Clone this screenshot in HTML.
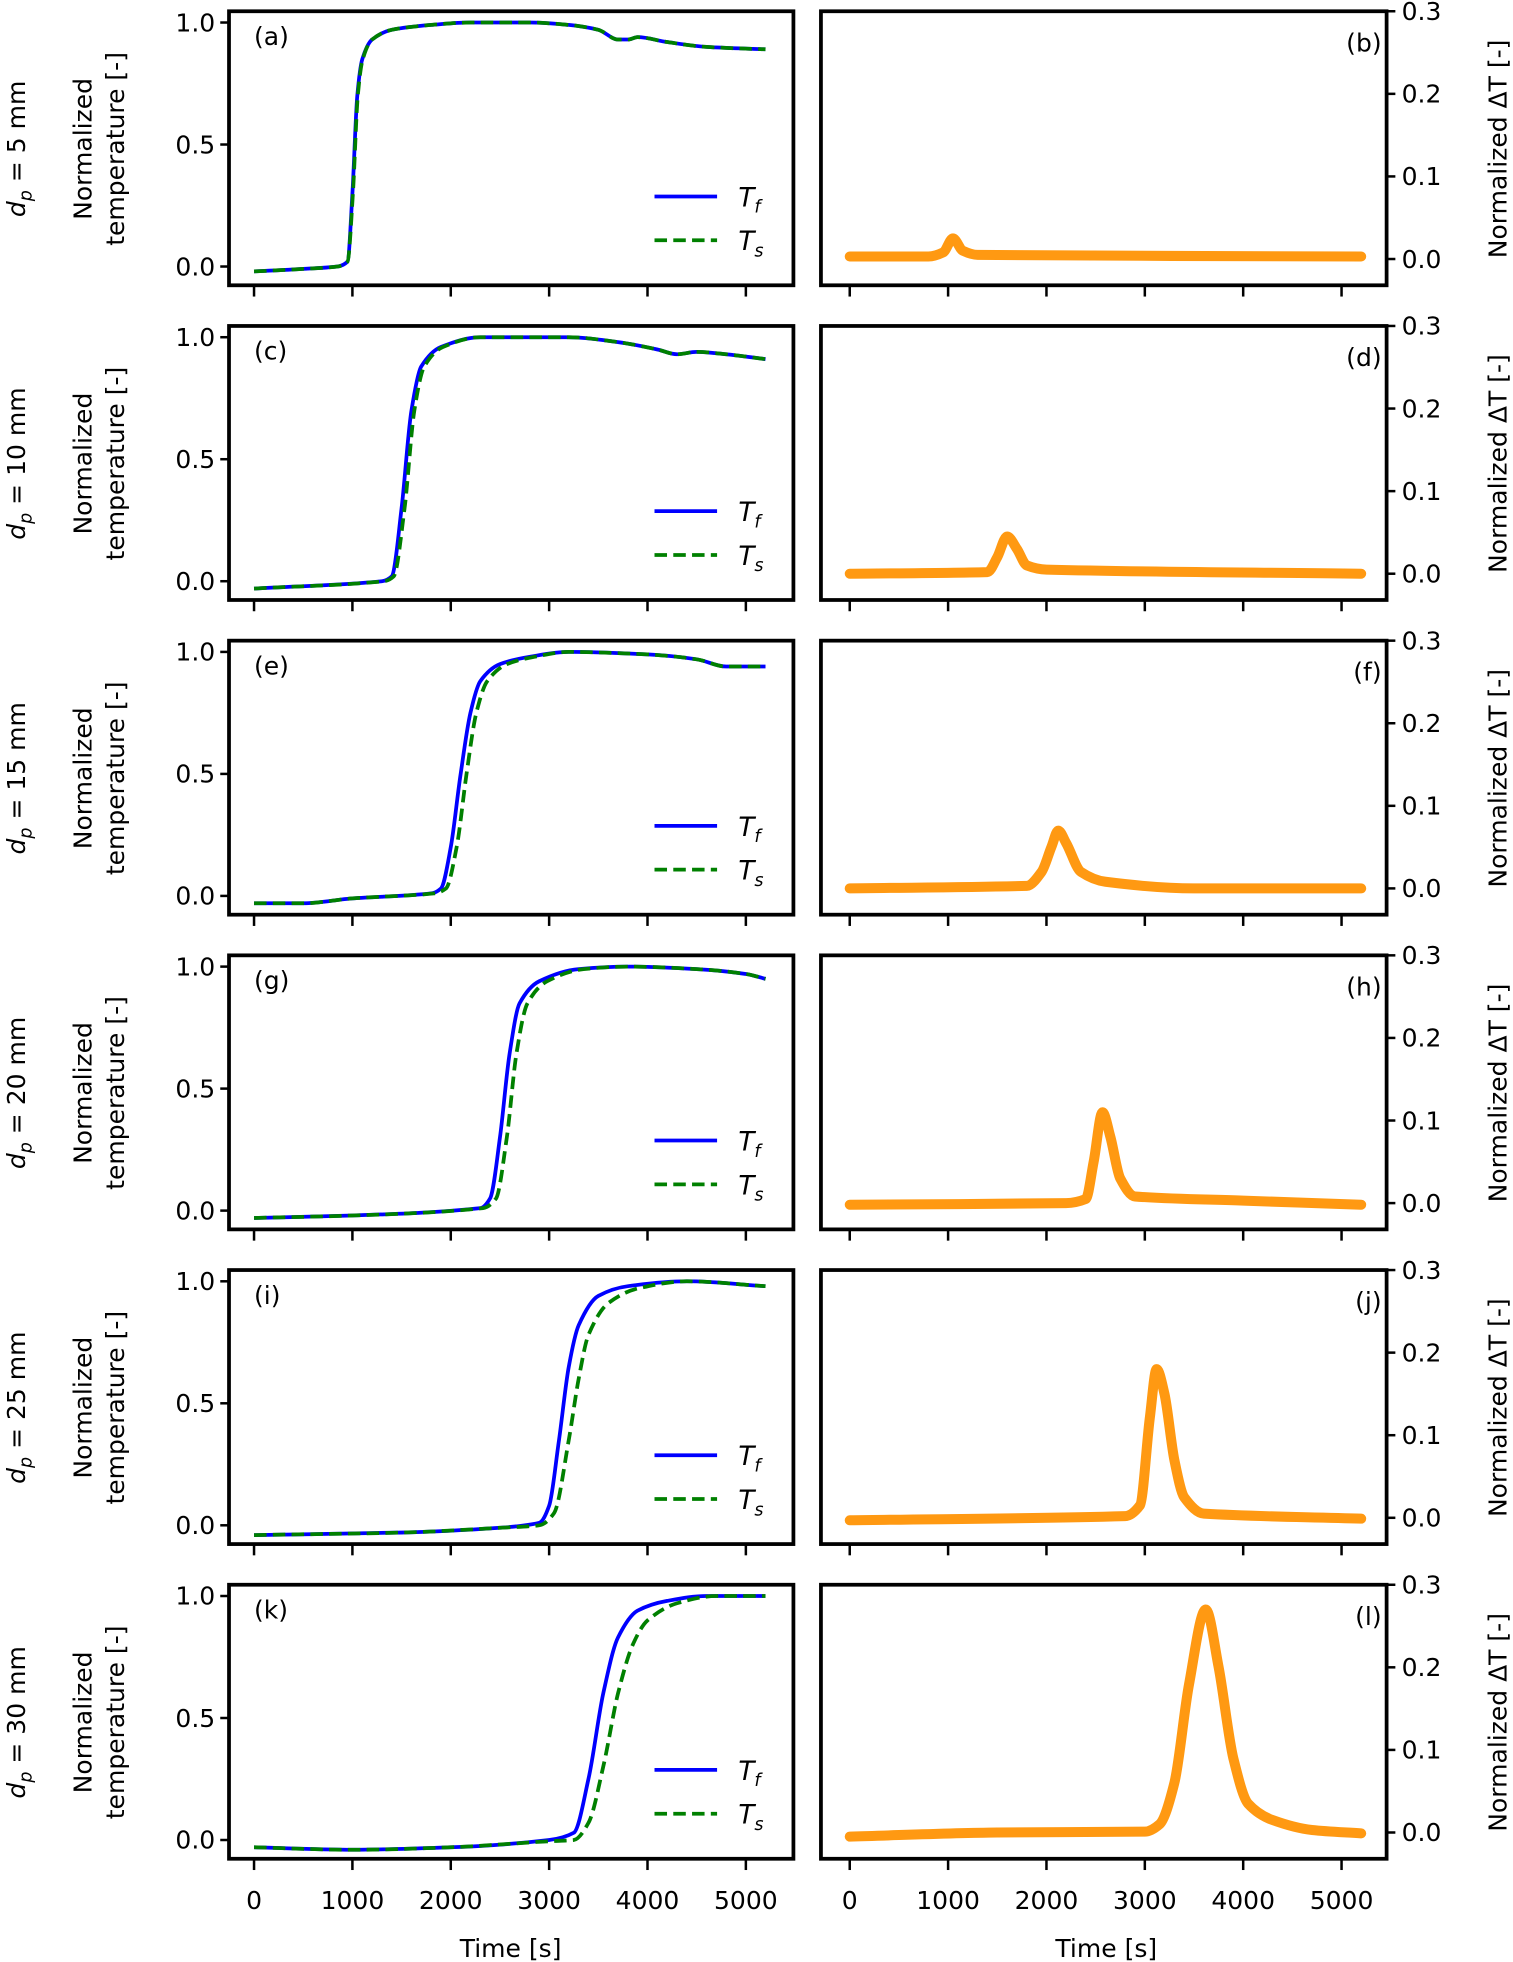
<!DOCTYPE html>
<html><head><meta charset="utf-8"><style>
html,body{margin:0;padding:0;background:#fff}
svg{display:block}
text{font-family:"DejaVu Sans","Liberation Sans",sans-serif;fill:#000}
</style></head><body>
<svg id="fig" width="1513" height="1962" viewBox="0 0 1209 1568" preserveAspectRatio="none" xmlns="http://www.w3.org/2000/svg"></svg>
<script>
const diameters = [5,10,15,20,25,30];
const letters = [["a","b"],["c","d"],["e","f"],["g","h"],["i","j"],["k","l"]];
const xTicks = [0,1000,2000,3000,4000,5000];
const yTicksLeft = [0.0,0.5,1.0];
const yTicksRight = [0.0,0.1,0.2,0.3];
// Tf series [time, value]
const tf5 = [[0,-0.02],[500,-0.01],[850,0.0],[950,0.02],[1000,0.3],[1050,0.7],[1100,0.85],[1200,0.93],[1400,0.97],[1800,0.99],[2200,1.0],[2800,1.0],[3200,0.99],[3500,0.97],[3700,0.93],[3800,0.93],[3900,0.94],[4200,0.92],[4600,0.9],[5200,0.89]];
const ts5 = [[0,-0.02],[500,-0.01],[850,0.0],[950,0.02],[1005,0.3],[1055,0.7],[1105,0.85],[1200,0.93],[1400,0.97],[1800,0.99],[2200,1.0],[2800,1.0],[3200,0.99],[3500,0.97],[3700,0.93],[3800,0.93],[3900,0.94],[4200,0.92],[4600,0.9],[5200,0.89]];
const tf10 = [[0,-0.03],[1300,0.0],[1400,0.02],[1500,0.3],[1600,0.7],[1700,0.88],[1900,0.96],[2300,1.0],[3200,1.0],[3700,0.98],[4100,0.95],[4300,0.93],[4500,0.94],[4800,0.93],[5200,0.91]];
const ts10 = [[0,-0.03],[1320,0.0],[1420,0.02],[1530,0.3],[1630,0.7],[1730,0.88],[1920,0.96],[2300,1.0],[3200,1.0],[3700,0.98],[4100,0.95],[4300,0.93],[4500,0.94],[4800,0.93],[5200,0.91]];
const tf15 = [[0,-0.03],[500,-0.03],[1000,-0.01],[1800,0.01],[1900,0.03],[2000,0.2],[2100,0.5],[2200,0.75],[2300,0.88],[2500,0.95],[2800,0.98],[3200,1.0],[4000,0.99],[4500,0.97],[4800,0.94],[5200,0.94]];
const ts15 = [[0,-0.03],[500,-0.03],[1000,-0.01],[1830,0.01],[1950,0.03],[2060,0.2],[2160,0.5],[2260,0.75],[2370,0.88],[2570,0.95],[2850,0.98],[3200,1.0],[4000,0.99],[4500,0.97],[4800,0.94],[5200,0.94]];
const tf20 = [[0,-0.03],[1000,-0.02],[2300,0.01],[2400,0.05],[2500,0.3],[2600,0.65],[2700,0.85],[2900,0.94],[3300,0.99],[3800,1.0],[4500,0.99],[5000,0.97],[5200,0.95]];
const ts20 = [[0,-0.03],[1000,-0.02],[2330,0.01],[2460,0.05],[2570,0.3],[2670,0.65],[2780,0.85],[2980,0.94],[3350,0.99],[3800,1.0],[4500,0.99],[5000,0.97],[5200,0.95]];
const tf25 = [[0,-0.04],[1500,-0.03],[2500,-0.01],[2900,0.01],[3000,0.08],[3100,0.35],[3200,0.65],[3300,0.82],[3500,0.94],[3800,0.98],[4400,1.0],[5200,0.98]];
const ts25 = [[0,-0.04],[1500,-0.03],[2500,-0.01],[2900,0.0],[3050,0.05],[3200,0.35],[3300,0.6],[3400,0.78],[3600,0.91],[3900,0.97],[4400,1.0],[5200,0.98]];
const tf30 = [[0,-0.03],[1000,-0.04],[2000,-0.03],[3000,0.0],[3250,0.03],[3400,0.25],[3550,0.6],[3700,0.83],[3900,0.94],[4200,0.98],[4600,1.0],[5200,1.0]];
const ts30 = [[0,-0.03],[1000,-0.04],[2000,-0.03],[3000,-0.005],[3250,0.0],[3400,0.07],[3550,0.3],[3700,0.6],[3850,0.8],[4000,0.9],[4300,0.97],[4700,1.0],[5200,1.0]];
// delta T series
const dt5 = [[0,0.003],[800,0.003],[950,0.008],[1050,0.025],[1150,0.01],[1300,0.005],[5200,0.003]];
const dt10 = [[0,0.0],[1400,0.002],[1500,0.02],[1600,0.045],[1700,0.03],[1800,0.01],[2000,0.005],[5200,0.0]];
const dt15 = [[0,0.0],[1800,0.003],[1950,0.02],[2050,0.05],[2120,0.07],[2200,0.055],[2350,0.02],[2600,0.008],[3500,0.0],[5200,0.0]];
const dt20 = [[0,-0.002],[2200,0.0],[2400,0.005],[2480,0.05],[2570,0.11],[2650,0.08],[2750,0.03],[2900,0.008],[4000,0.003],[5200,-0.002]];
const dt25 = [[0,-0.003],[2800,0.002],[2950,0.015],[3050,0.12],[3120,0.18],[3200,0.15],[3300,0.07],[3400,0.025],[3600,0.005],[5200,-0.001]];
const dt30 = [[0,-0.005],[1500,0.0],[3000,0.001],[3150,0.01],[3300,0.06],[3450,0.18],[3620,0.27],[3750,0.2],[3900,0.09],[4050,0.035],[4300,0.015],[4700,0.003],[5200,-0.001]];
const tfAll = [tf5,tf10,tf15,tf20,tf25,tf30];
const tsAll = [ts5,ts10,ts15,ts20,ts25,ts30];
const dtAll = [dt5,dt10,dt15,dt20,dt25,dt30];

const NS="http://www.w3.org/2000/svg";
const svg=document.getElementById('fig');
function mk(tag,attrs,parent){const e=document.createElementNS(NS,tag);for(const k in attrs)e.setAttribute(k,attrs[k]);(parent||svg).appendChild(e);return e;}
const PITCH=251.5;
function xL(t){return 203+t*0.0786;}
function xR(t){return 679+t*0.0786;}
function yL(v,r){return r*PITCH+213-195*v;}
function yR(v,r){return r*PITCH+207-660*v;}
// monotone cubic path
function pathD(arr,fx,fy,r){
  const P=arr.map(p=>[fx(p[0]),fy(p[1],r)]);
  const n=P.length, d=[], m=[];
  for(let i=0;i<n-1;i++)d.push((P[i+1][1]-P[i][1])/(P[i+1][0]-P[i][0]));
  m[0]=d[0]; m[n-1]=d[n-2];
  for(let i=1;i<n-1;i++){ if(d[i-1]*d[i]<=0)m[i]=0; else m[i]=2/(1/d[i-1]+1/d[i]); }
  let s='M'+P[0][0].toFixed(1)+','+P[0][1].toFixed(1);
  for(let i=0;i<n-1;i++){
    const h=(P[i+1][0]-P[i][0])/3;
    s+=' C'+(P[i][0]+h).toFixed(1)+','+(P[i][1]+m[i]*h).toFixed(1)+' '+(P[i+1][0]-h).toFixed(1)+','+(P[i+1][1]-m[i+1]*h).toFixed(1)+' '+P[i+1][0].toFixed(1)+','+P[i+1][1].toFixed(1);
  }
  return s;
}

for(let r=0;r<6;r++){
  const top=9+r*PITCH, bot=228+r*PITCH;
  const gl=mk('g',{});
  
  
  const ls=mk('path',{d:pathD(tfAll[r],xL,yL,r),fill:'none',stroke:'#0000ff','stroke-width':3,'stroke-linejoin':'round'},gl);
  
  
  const ss=mk('path',{d:pathD(tsAll[r],xL,yL,r),fill:'none',stroke:'#008000','stroke-width':3,'stroke-dasharray':'10,5','stroke-linejoin':'round'},gl);
  
  
  const fr=mk('rect',{x:183,y:top,width:451,height:bot-top,fill:'none',stroke:'#000','stroke-width':3},gl);
  
  
  yTicksLeft.forEach(v=>{
    mk('line',{x1:176,x2:183,y1:yL(v,r),y2:yL(v,r),stroke:'#000','stroke-width':2},gl);
    const t=mk('text',{x:172,y:yL(v,r)+7,'text-anchor':'end','font-size':20},gl);t.textContent=v.toFixed(1);
    
    
  });
  xTicks.forEach(v=>{mk('line',{x1:xL(v),x2:xL(v),y1:bot,y2:bot+9,stroke:'#000','stroke-width':2},gl);});
  const pl=mk('text',{x:203,y:top+27,'font-size':20},gl);pl.textContent='('+letters[r][0]+')';
  
  
  const lg=mk('g',{},gl);
  
  
  mk('line',{x1:523,x2:573,y1:top+148,y2:top+148,stroke:'#0000ff','stroke-width':3},lg);
  mk('line',{x1:523,x2:573,y1:top+183,y2:top+183,stroke:'#008000','stroke-width':3,'stroke-dasharray':'10,5'},lg);
  const l1=mk('text',{x:590,y:top+156,'font-size':21,'font-style':'italic'},lg);l1.innerHTML='T<tspan font-size="14" dy="5">f</tspan>';
  const l2=mk('text',{x:590,y:top+191,'font-size':21,'font-style':'italic'},lg);l2.innerHTML='T<tspan font-size="14" dy="5">s</tspan>';
  const cy=top+110;
  const d=mk('text',{x:0,y:0,'font-size':20,'text-anchor':'middle',transform:`translate(20,${cy}) rotate(-90)`},gl);
  d.innerHTML='<tspan font-style="italic">d</tspan><tspan font-size="14" dy="5" font-style="italic">p</tspan><tspan dy="-5"> = '+diameters[r]+' mm</tspan>';
  
  
  const n1=mk('text',{x:0,y:0,'font-size':20,'text-anchor':'middle',transform:`translate(73,${cy}) rotate(-90)`},gl);n1.textContent='Normalized';
  const n2=mk('text',{x:0,y:0,'font-size':20,'text-anchor':'middle',transform:`translate(99,${cy}) rotate(-90)`},gl);n2.textContent='temperature [-]';
  
  

  const gr=mk('g',{});
  
  
  const dl=mk('path',{d:pathD(dtAll[r],xR,yR,r),fill:'none',stroke:'#ff9912','stroke-width':8,'stroke-linejoin':'round','stroke-linecap':'round'},gr);
  
  
  const fr2=mk('rect',{x:656,y:top,width:452,height:bot-top,fill:'none',stroke:'#000','stroke-width':3},gr);
  
  
  yTicksRight.forEach(v=>{
    mk('line',{x1:1108,x2:1115,y1:yR(v,r),y2:yR(v,r),stroke:'#000','stroke-width':2},gr);
    const t=mk('text',{x:1120,y:yR(v,r)+7,'font-size':20},gr);t.textContent=v.toFixed(1);
    
    
  });
  xTicks.forEach(v=>{mk('line',{x1:xR(v),x2:xR(v),y1:bot,y2:bot+9,stroke:'#000','stroke-width':2},gr);});
  const pr=mk('text',{x:1104,y:top+32,'font-size':20,'text-anchor':'end'},gr);pr.textContent='('+letters[r][1]+')';
  
  
  const rt=mk('text',{x:0,y:0,'font-size':20,'text-anchor':'middle',transform:`translate(1204,${cy}) rotate(-90)`},gr);rt.textContent='Normalized ΔT [-]';
  
  

  if(r===5){
    xTicks.forEach(v=>{
      const a=mk('text',{x:xL(v),y:bot+40,'font-size':20,'text-anchor':'middle'});a.textContent=v;
      
      
      const b=mk('text',{x:xR(v),y:bot+40,'font-size':20,'text-anchor':'middle'});b.textContent=v;
      
      
    });
    const xa=mk('text',{x:408,y:1564,'font-size':20,'text-anchor':'middle'});xa.textContent='Time [s]';
    
    
    const xb=mk('text',{x:884,y:1564,'font-size':20,'text-anchor':'middle'});xb.textContent='Time [s]';
    
    
  }
}
</script>
</body></html>
